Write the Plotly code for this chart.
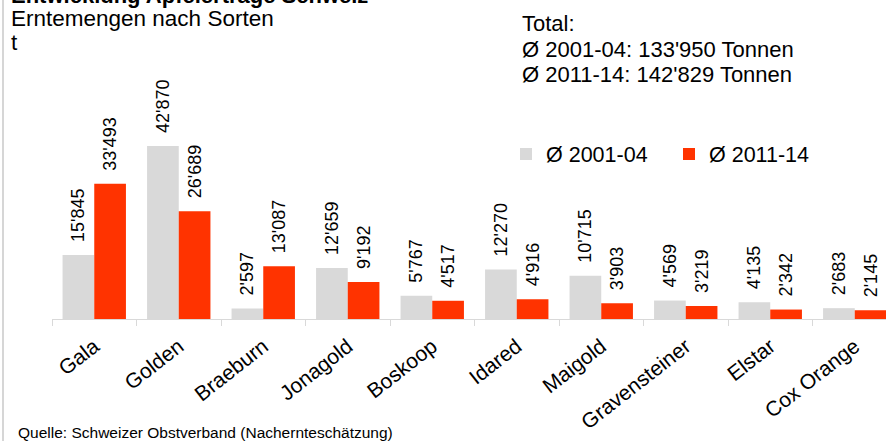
import plotly.graph_objects as go

categories = ["Gala", "Golden", "Braeburn", "Jonagold", "Boskoop", "Idared",
              "Maigold", "Gravensteiner", "Elstar", "Cox Orange"]
avg_2001_04 = [15845, 42870, 2597, 12659, 5767, 12270, 10715, 4569, 4135, 2683]
avg_2011_14 = [33493, 26689, 13087, 9192, 4517, 4916, 3903, 3219, 2342, 2145]
series_names = ["Ø 2001-04", "Ø 2011-14"]
total_lines = ["Total:", "Ø 2001-04: 133'950 Tonnen", "Ø 2011-14: 142'829 Tonnen"]

GRAY = "#d9d9d9"
RED = "#ff3300"
FONT = "Liberation Sans, Arial, sans-serif"

W, H = 886, 441
ML, MR, MT, MB = 52, 0, 0, 122
PW = W - ML - MR
PH = H - MT - MB


def fmt(v):
    return "\u00a0\u00a0" + f"{v:,}".replace(",", "'")


def px_x(p):
    return (p - ML) / PW


def px_y(p):
    return (MT + PH - p) / PH


fig = go.Figure()
for name, vals, col in [(series_names[0], avg_2001_04, GRAY), (series_names[1], avg_2011_14, RED)]:
    fig.add_trace(go.Bar(
        x=categories, y=vals, name=name, marker=dict(color=col, line=dict(width=0)),
        text=[fmt(v) for v in vals], textposition="outside", textangle=-90,
        textfont=dict(family=FONT, size=18, color="black"),
        constraintext="none", cliponaxis=False,
    ))

annotations = [
    dict(text="<b>Entwicklung Apfelerträge Schweiz</b>", x=px_x(9), y=px_y(-5), size=22),
    dict(text="Erntemengen nach Sorten", x=px_x(9), y=px_y(19), size=22.5),
    dict(text="t", x=px_x(9), y=px_y(42), size=22.5),
    dict(text=total_lines[0], x=px_x(520), y=px_y(24), size=22),
    dict(text=total_lines[1], x=px_x(520), y=px_y(49), size=22),
    dict(text=total_lines[2], x=px_x(520), y=px_y(74), size=22),
    dict(text="Quelle: Schweizer Obstverband (Nachernteschätzung)", x=px_x(16), y=px_y(432), size=15.5),
]
fig.update_layout(annotations=[
    dict(text=a["text"], x=a["x"], y=a["y"], xref="paper", yref="paper",
         xanchor="left", yanchor="middle", showarrow=False,
         font=dict(family=FONT, size=a["size"], color="black"))
    for a in annotations
])

fig.add_shape(type="line", xref="paper", yref="paper",
              x0=px_x(3), x1=px_x(3), y0=px_y(H), y1=px_y(0),
              line=dict(color="#c8c8c8", width=1.5))

fig.update_layout(
    width=W, height=H,
    margin=dict(l=ML, r=MR, t=MT, b=MB, pad=0),
    paper_bgcolor="white", plot_bgcolor="white",
    barmode="group", bargap=0.25, bargroupgap=0,
    font=dict(family=FONT, color="black"),
    showlegend=True,
    legend=dict(orientation="h", x=px_x(506), y=px_y(154), xanchor="left", yanchor="middle",
                font=dict(family=FONT, size=21.5, color="black"),
                entrywidth=118, entrywidthmode="pixels",
                bgcolor="rgba(0,0,0,0)", traceorder="normal"),
    xaxis=dict(range=[-0.5, -0.5 + PW / 84.5], showline=True, linecolor=GRAY, linewidth=1,
               ticks="outside", tickson="boundaries", ticklen=6, tickcolor=GRAY,
               tickangle=-38, ticklabelstandoff=6,
               tickfont=dict(family=FONT, size=21, color="black"),
               showgrid=False, zeroline=False, fixedrange=True),
    yaxis=dict(range=[0, PH / (173 / 42870)], visible=False, showgrid=False,
               zeroline=False, fixedrange=True),
)

fig.write_html("out.html", config={"displayModeBar": False},
               post_script="document.body.style.margin='0px';document.body.style.overflow='hidden';")
